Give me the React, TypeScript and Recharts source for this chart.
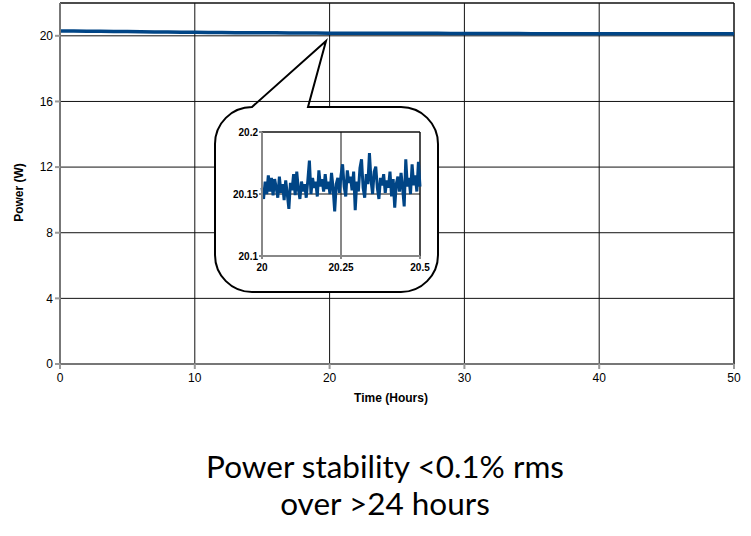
import React from 'react';
import { LineChart, Line, XAxis, YAxis, CartesianGrid, ReferenceLine, Label } from 'recharts';

// long run: 50 hours, sampled every hour
const hours = [
  0, 1, 2, 3, 4, 5, 6, 7, 8, 9, 10, 11, 12, 13, 14, 15, 16, 17, 18, 19, 20, 21, 22, 23, 24, 25,
  26, 27, 28, 29, 30, 31, 32, 33, 34, 35, 36, 37, 38, 39, 40, 41, 42, 43, 44, 45, 46, 47, 48, 49, 50,
];
const powerW = [
  20.3, 20.29, 20.28, 20.28, 20.27, 20.26, 20.25, 20.24, 20.23, 20.22, 20.21, 20.2, 20.2, 20.19, 20.19,
  20.18, 20.18, 20.17, 20.17, 20.17, 20.16, 20.16, 20.16, 20.16, 20.15, 20.15, 20.15, 20.15, 20.15, 20.14,
  20.14, 20.14, 20.14, 20.14, 20.14, 20.13, 20.13, 20.13, 20.13, 20.13, 20.13, 20.13, 20.12, 20.12, 20.12,
  20.12, 20.12, 20.12, 20.12, 20.12, 20.12,
];

// zoomed window 20 h .. 20.5 h
const zoomHours = [
  20, 20.005, 20.01, 20.015, 20.02, 20.025, 20.03, 20.035, 20.04, 20.045, 20.05, 20.055, 20.06, 20.065,
  20.07, 20.075, 20.08, 20.085, 20.09, 20.095, 20.1, 20.105, 20.11, 20.115, 20.12, 20.125, 20.13, 20.135,
  20.14, 20.145, 20.15, 20.155, 20.16, 20.165, 20.17, 20.175, 20.18, 20.185, 20.19, 20.195, 20.2, 20.205,
  20.21, 20.215, 20.22, 20.225, 20.23, 20.235, 20.24, 20.245, 20.25, 20.255, 20.26, 20.265, 20.27, 20.275,
  20.28, 20.285, 20.29, 20.295, 20.3, 20.305, 20.31, 20.315, 20.32, 20.325, 20.33, 20.335, 20.34, 20.345,
  20.35, 20.355, 20.36, 20.365, 20.37, 20.375, 20.38, 20.385, 20.39, 20.395, 20.4, 20.405, 20.41, 20.415,
  20.42, 20.425, 20.43, 20.435, 20.44, 20.445, 20.45, 20.455, 20.46, 20.465, 20.47, 20.475, 20.48, 20.485,
  20.49, 20.495, 20.5,
];
const zoomPowerW = [
  20.155, 20.146, 20.16, 20.15, 20.165, 20.152, 20.163, 20.149, 20.162, 20.155, 20.147, 20.164, 20.151,
  20.158, 20.145, 20.161, 20.15, 20.138, 20.159, 20.153, 20.166, 20.149, 20.168, 20.154, 20.146, 20.16,
  20.152, 20.158, 20.147, 20.161, 20.177, 20.15, 20.163, 20.155, 20.16, 20.148, 20.169, 20.156, 20.162,
  20.152, 20.166, 20.154, 20.16, 20.15, 20.167, 20.155, 20.136, 20.158, 20.163, 20.151, 20.165, 20.174,
  20.156, 20.148, 20.169, 20.159, 20.164, 20.153, 20.168, 20.137, 20.16, 20.152, 20.171, 20.178, 20.155,
  20.147, 20.166, 20.158, 20.183, 20.161, 20.15, 20.168, 20.172, 20.155, 20.146, 20.163, 20.157, 20.166,
  20.151, 20.161, 20.155, 20.168, 20.148, 20.162, 20.139, 20.158, 20.164, 20.152, 20.167, 20.155, 20.14,
  20.178, 20.156, 20.163, 20.15, 20.174, 20.157, 20.165, 20.152, 20.176, 20.156,
];

const yTicks = [0, 4, 8, 12, 16, 20];
const xTicks = [0, 10, 20, 30, 40, 50];
const zoomYTicks = [20.1, 20.15, 20.2];
const zoomXTicks = [20, 20.25, 20.5];
const captionLines = ['Power stability <0.1% rms', 'over >24 hours'];

const BLUE = '#004586';
const FONT = '"Liberation Sans", Arial, sans-serif';

const mainData = hours.map((h, i) => ({ h, p: powerW[i] }));
const zoomData = zoomHours.map((h, i) => ({ h, p: zoomPowerW[i] }));

const tickStyle = { fill: '#000', fontSize: 12, fontFamily: FONT };
const smallTick = { fill: '#000', fontSize: 10, fontWeight: 700, fontFamily: FONT };

export default function App() {
  return (
    <div style={{ position: 'absolute', left: 0, top: 0, width: 751, height: 536, background: '#fff' }}>
      <div style={{ position: 'absolute', left: 0, top: 0 }}>
        <LineChart width={751} height={420} data={mainData} margin={{ top: 3, right: 17, bottom: 11, left: 0 }}>
          <CartesianGrid stroke="#111" strokeWidth={1} horizontalValues={[4, 8, 12, 16, 20]} verticalValues={[10, 20, 30, 40]} />
          <ReferenceLine y={22} stroke="#111" strokeWidth={1.5} />
          <ReferenceLine x={50} stroke="#111" strokeWidth={1.5} />
          <XAxis dataKey="h" type="number" domain={[0, 50]} ticks={xTicks} height={45}
            stroke="#777" strokeWidth={2} tickSize={5} tickMargin={4} tick={tickStyle} tickLine={{ stroke: '#999' }}>
            <Label value="Time (Hours)" position="insideBottom" offset={7} dx={-6}
              style={{ fontFamily: FONT, fontSize: 12, fontWeight: 700, fill: '#000' }} />
          </XAxis>
          <YAxis type="number" domain={[0, 22]} ticks={yTicks} width={60}
            stroke="#777" strokeWidth={2} tickSize={5} tick={tickStyle} tickLine={{ stroke: '#999' }}>
            <Label value="Power (W)" angle={-90} position="insideLeft" offset={19} dy={9}
              style={{ fontFamily: FONT, fontSize: 12, fontWeight: 700, fill: '#000', textAnchor: 'middle' }} />
          </YAxis>
          <Line type="linear" dataKey="p" stroke={BLUE} strokeWidth={3.5} dot={false} isAnimationActive={false} />
        </LineChart>
      </div>

      {/* callout balloon */}
      <svg width={751} height={536} style={{ position: 'absolute', left: 0, top: 0 }}>
        <path
          d="M 401 107 A 37 37 0 0 1 438 144 L 438 255 A 37 37 0 0 1 401 292 L 252 292 A 37 37 0 0 1 215 255 L 215 144 A 37 37 0 0 1 252 107 Z"
          fill="#fff" stroke="none"
        />
        <path
          d="M 308 107 L 401 107 A 37 37 0 0 1 438 144 L 438 255 A 37 37 0 0 1 401 292 L 252 292 A 37 37 0 0 1 215 255 L 215 144 A 37 37 0 0 1 252 107 L 326 41 Z"
          fill="none" stroke="#000" strokeWidth={2} strokeLinejoin="miter"
        />
      </svg>

      <div style={{ position: 'absolute', left: 215, top: 107 }}>
        <LineChart width={223} height={185} data={zoomData} margin={{ top: 25, right: 18, bottom: 0, left: 0 }}>
          <CartesianGrid stroke="#111" horizontalValues={[20.15]} verticalValues={[20.25]} />
          <ReferenceLine y={20.2} stroke="#111" strokeWidth={1.5} />
          <ReferenceLine x={20.5} stroke="#111" strokeWidth={1.5} />
          <XAxis dataKey="h" type="number" domain={[20, 20.5]} ticks={zoomXTicks} height={36}
            stroke="#888" strokeWidth={2} tickSize={3} tickMargin={5} tick={smallTick} tickLine={{ stroke: '#888' }} />
          <YAxis type="number" domain={[20.1, 20.2]} ticks={zoomYTicks} width={47}
            stroke="#888" strokeWidth={2} tickSize={3} tickMargin={1} tick={smallTick} tickLine={{ stroke: '#888' }} />
          <Line type="linear" dataKey="p" stroke={BLUE} strokeWidth={3} dot={false} isAnimationActive={false} />
        </LineChart>
      </div>

      <div style={{ position: 'absolute', left: 0, top: 448, width: 770, textAlign: 'center',
        fontFamily: 'Lato, "Open Sans", sans-serif', fontSize: 31.5, lineHeight: '37px', color: '#000' }}>
        {captionLines.map((t) => <div key={t}>{t}</div>)}
      </div>
    </div>
  );
}
